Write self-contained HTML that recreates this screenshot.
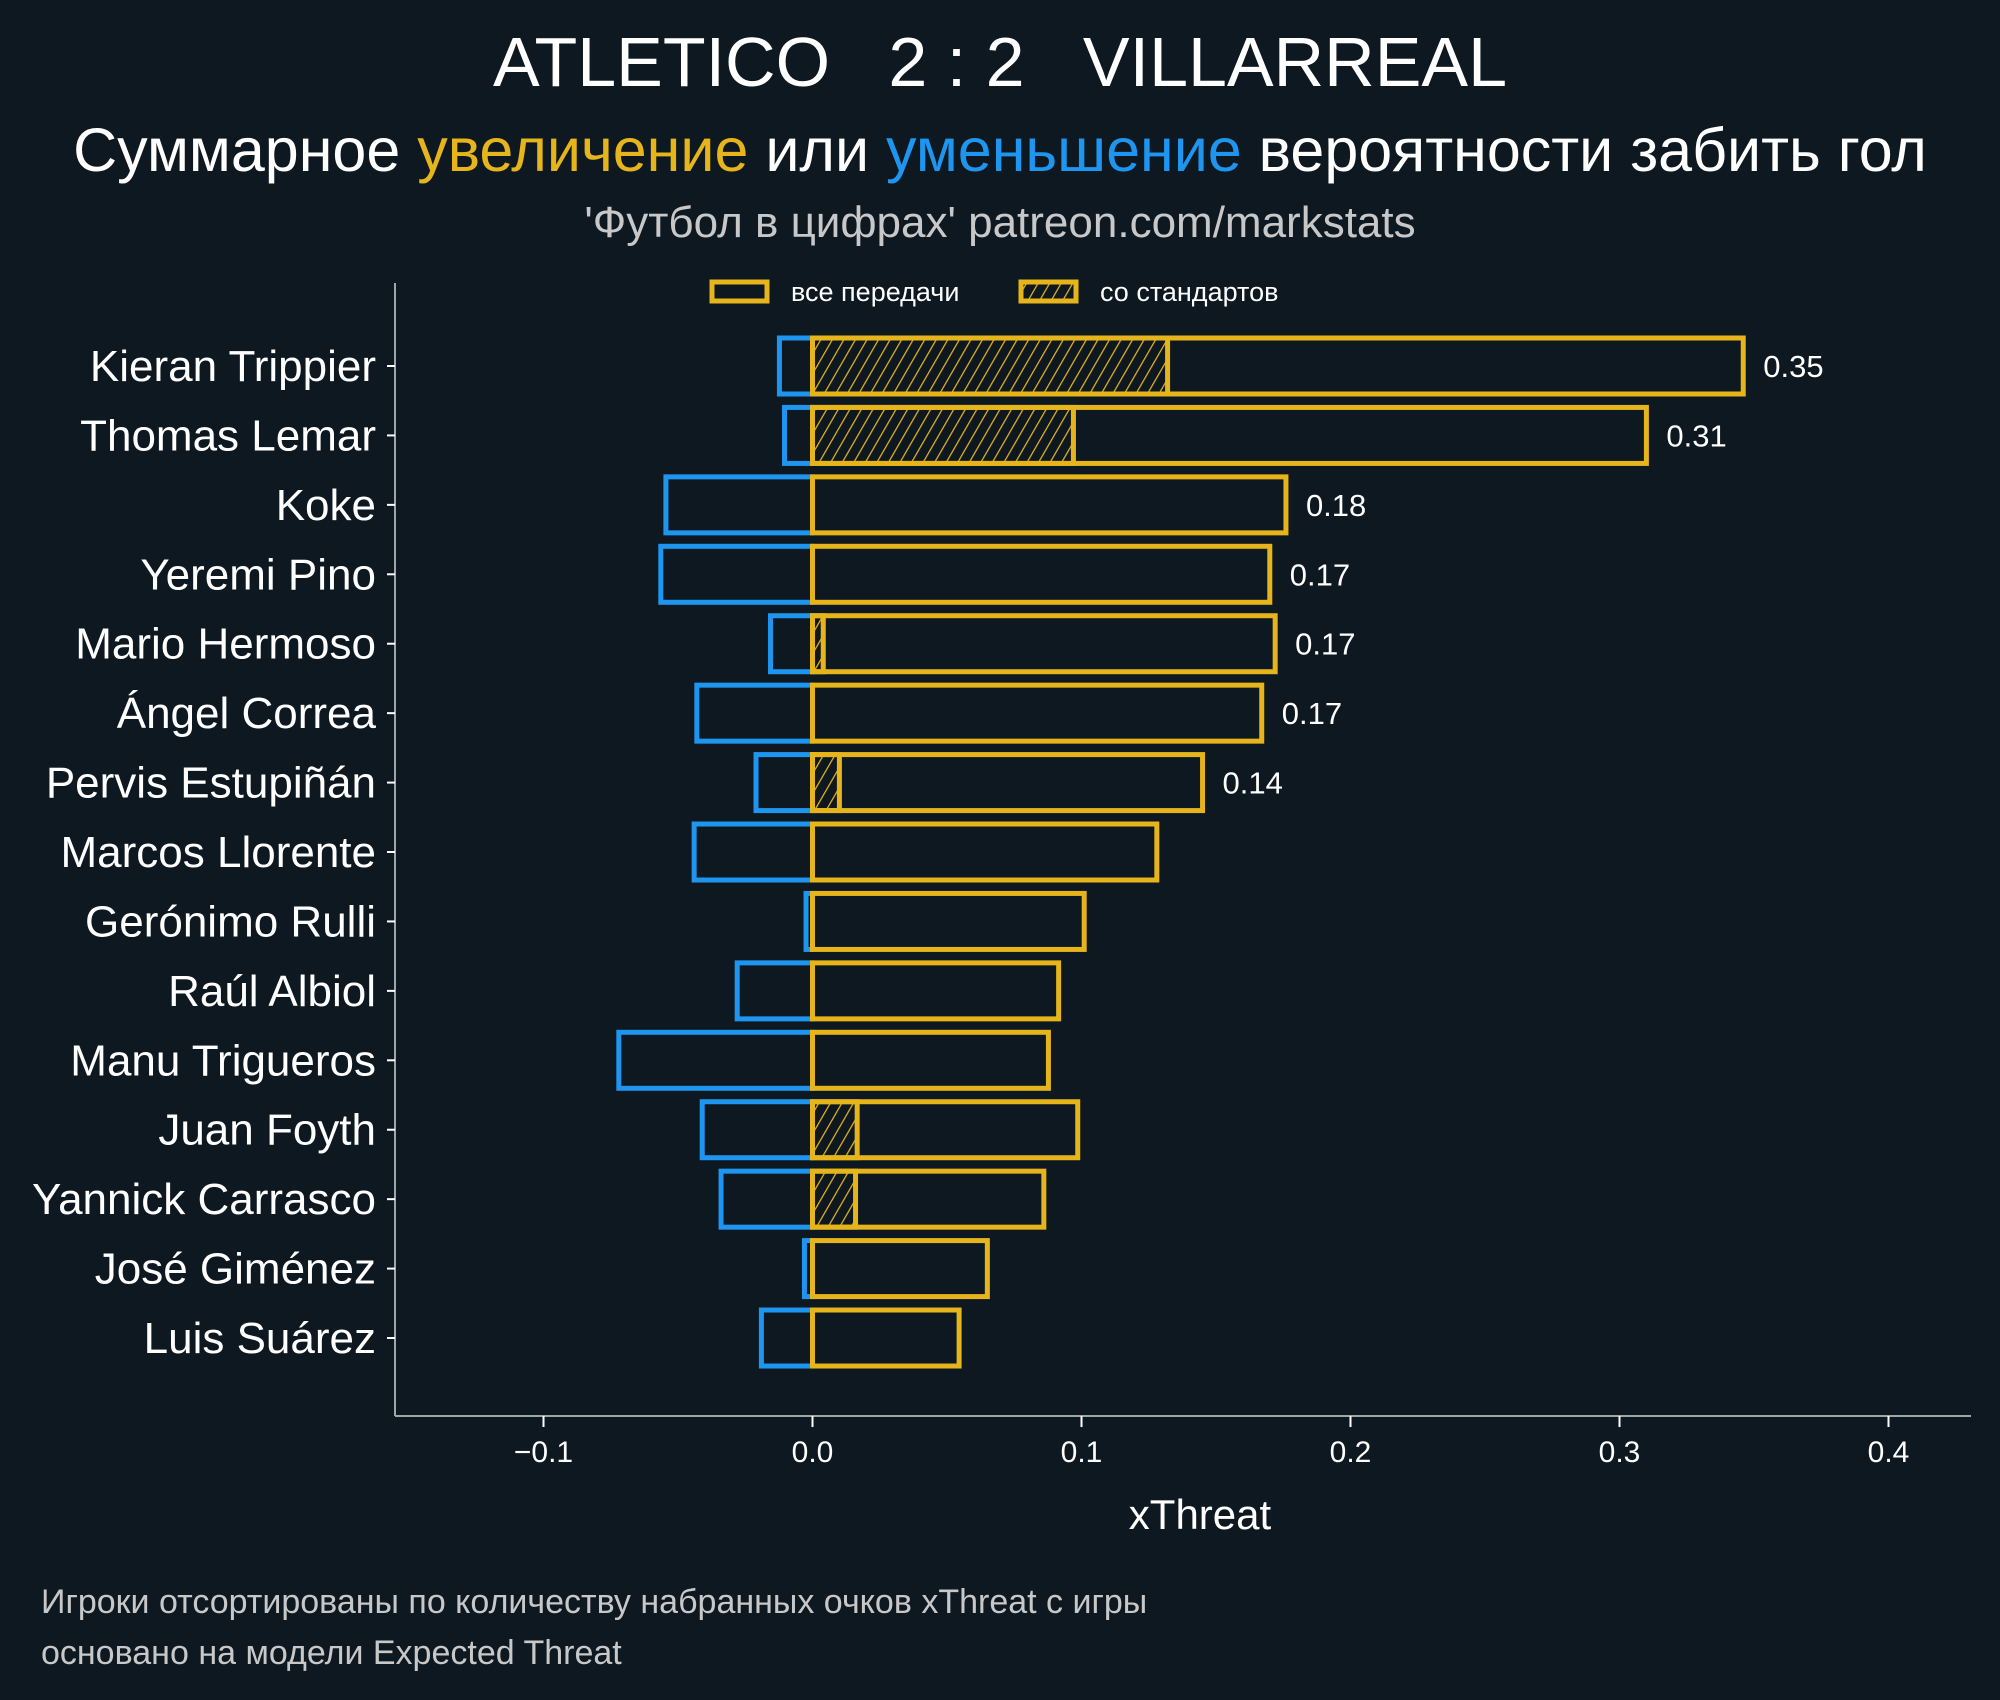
<!DOCTYPE html>
<html><head><meta charset="utf-8"><style>
html,body{margin:0;padding:0;background:#0e1821;}
svg{display:block;}
text{font-family:"Liberation Sans","DejaVu Sans",sans-serif;}
</style></head><body>
<svg id="chart" width="2000" height="1700" xmlns="http://www.w3.org/2000/svg">
<defs>
<pattern id="hatch" patternUnits="userSpaceOnUse" width="10" height="10" patternTransform="rotate(30)">
<line x1="0" y1="0" x2="0" y2="10" stroke="#e6b51b" stroke-width="2.5"/>
</pattern>
</defs>
<rect width="2000" height="1700" fill="#0e1821"/>
<text x="1000" y="86" text-anchor="middle" fill="#ffffff" font-size="70" xml:space="preserve">ATLETICO   2 : 2   VILLARREAL</text>
<text x="1000" y="171" text-anchor="middle" fill="#ffffff" font-size="61">Суммарное <tspan fill="#e6b51b">увеличение</tspan> или <tspan fill="#1e96f0">уменьшение</tspan> вероятности забить гол</text>
<text x="1000" y="237" text-anchor="middle" fill="#c8c8c8" font-size="44">'Футбол в цифрах' patreon.com/markstats</text>
<g>
<rect x="712" y="282" width="55" height="19" fill="none" stroke="#e6b51b" stroke-width="5"/>
<text x="791" y="301" fill="#ffffff" font-size="27">все передачи</text>
<rect x="1021" y="282" width="55" height="19" fill="url(#hatch)" stroke="#e6b51b" stroke-width="5"/>
<text x="1100" y="301" fill="#ffffff" font-size="27">со стандартов</text>
</g>
<g id="plot"></g>
<text x="1200" y="1529" text-anchor="middle" fill="#ffffff" font-size="42">xThreat</text>
<text x="41" y="1613" fill="#c8c8c8" font-size="34">Игроки отсортированы по количеству набранных очков xThreat с игры</text>
<text x="41" y="1664" fill="#c8c8c8" font-size="34">основано на модели Expected Threat</text>
</svg>
<script>
const players = ["Kieran Trippier","Thomas Lemar","Koke","Yeremi Pino","Mario Hermoso","Ángel Correa","Pervis Estupiñán","Marcos Llorente","Gerónimo Rulli","Raúl Albiol","Manu Trigueros","Juan Foyth","Yannick Carrasco","José Giménez","Luis Suárez"];
const positive = [0.346,0.310,0.176,0.170,0.172,0.167,0.145,0.128,0.101,0.0915,0.0877,0.0986,0.086,0.065,0.0545];
const negative = [-0.0123,-0.0104,-0.0545,-0.0564,-0.0156,-0.043,-0.021,-0.044,-0.0024,-0.028,-0.072,-0.041,-0.034,-0.003,-0.019];
const setPieces = [0.132,0.097,0,0,0.004,0,0.010,0,0,0,0,0.0166,0.016,0,0];
const valueLabels = ["0.35","0.31","0.18","0.17","0.17","0.17","0.14","","","","","","","",""];
const xTicks = [-0.1,0.0,0.1,0.2,0.3,0.4];
const xTickLabels = ["\u22120.1","0.0","0.1","0.2","0.3","0.4"];

const NS="http://www.w3.org/2000/svg";
const g=document.getElementById('plot');
const x0=812.5, xPerUnit=2690;
const xs=v=>x0+v*xPerUnit;
const rowTop=366, rowStep=69.43, barH=56;
const ys=i=>rowTop+i*rowStep;
function mk(tag,attrs){const e=document.createElementNS(NS,tag);for(const k in attrs)e.setAttribute(k,attrs[k]);g.appendChild(e);return e;}

let e=mk('line',{x1:395,y1:283,x2:395,y2:1416,stroke:'#9aa8a8','stroke-width':2});


e=mk('line',{x1:395,y1:1416,x2:1971,y2:1416,stroke:'#9aa8a8','stroke-width':2});



xTicks.forEach((t,i)=>{
  const x=xs(t);
  let l=mk('line',{x1:x,y1:1416,x2:x,y2:1427,stroke:'#ffffff','stroke-width':2});
  
  
  let tx=mk('text',{x:x,y:1462,'text-anchor':'middle',fill:'#ffffff','font-size':30});
  tx.textContent=xTickLabels[i];
  
  
});

players.forEach((p,i)=>{
  const yc=ys(i), yt=yc-barH/2;
  let tk=mk('line',{x1:387,y1:yc,x2:395,y2:yc,stroke:'#ffffff','stroke-width':2});
  
  
  let lb=mk('text',{x:376,y:yc+15,'text-anchor':'end',fill:'#ffffff','font-size':44});
  lb.textContent=p;
  
  
  let nb=mk('rect',{x:xs(negative[i]),y:yt,width:xs(0)-xs(negative[i]),height:barH,fill:'none',stroke:'#1e96f0','stroke-width':5});
  
  
  if(setPieces[i]>0){
    let hb=mk('rect',{x:xs(0),y:yt,width:xs(setPieces[i])-xs(0),height:barH,fill:'url(#hatch)',stroke:'#e6b51b','stroke-width':5});
    
    
  }
  let pb=mk('rect',{x:xs(0),y:yt,width:xs(positive[i])-xs(0),height:barH,fill:'none',stroke:'#e6b51b','stroke-width':5});
  
  
  if(valueLabels[i]){
    let vl=mk('text',{x:xs(positive[i])+20,y:yc+11,fill:'#ffffff','font-size':31});
    vl.textContent=valueLabels[i];
    
    
  }
});
</script>
</body></html>
